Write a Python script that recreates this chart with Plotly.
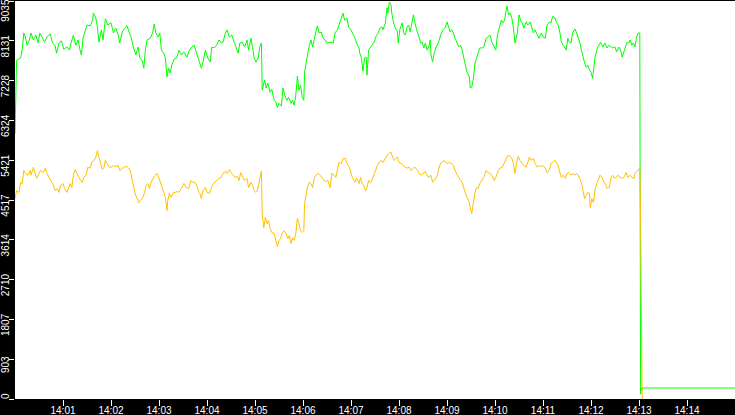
import pandas as pd
import plotly.graph_objects as go

# seconds after 14:00:00 and readings
green_t = [0, 1, 2, 7, 9, 11, 13, 15, 18, 20,
           23, 26, 29, 31, 34, 37, 40, 44, 47, 50,
           52, 55, 58, 61, 65, 68, 70, 73, 76, 79,
           81, 83, 85, 88, 90, 94, 97, 98, 101, 103,
           105, 108, 110, 113, 116, 120, 123, 126, 129, 131,
           134, 137, 140, 143, 145, 148, 151, 154, 156, 159,
           161, 163, 165, 169, 172, 174, 176, 179, 181, 183,
           186, 188, 190, 192, 194, 196, 199, 202, 205, 208,
           211, 215, 218, 221, 224, 227, 230, 233, 235, 238,
           241, 244, 246, 249, 252, 255, 258, 260, 263, 265,
           268, 271, 274, 276, 279, 281, 284, 287, 290, 292,
           295, 297, 299, 301, 304, 306, 308, 309, 312, 314,
           316, 319, 321, 324, 326, 328, 330, 333, 335, 337,
           340, 342, 345, 347, 349, 351, 353, 355, 357, 359,
           361, 362, 364, 366, 368, 370, 372, 374, 376, 378,
           380, 383, 385, 388, 390, 395, 398, 400, 403, 405,
           408, 410, 412, 415, 417, 420, 423, 425, 428, 430,
           431, 433, 435, 437, 439, 440, 442, 444, 446, 449,
           451, 454, 456, 459, 460, 463, 465, 466, 468, 470,
           471, 473, 475, 478, 479, 481, 484, 486, 488, 490,
           492, 494, 496, 498, 500, 502, 505, 507, 509, 511,
           513, 515, 517, 519, 520, 522, 524, 526, 529, 531,
           533, 535, 538, 540, 542, 544, 546, 548, 550, 553,
           555, 557, 559, 561, 563, 565, 568, 569, 571, 573,
           575, 577, 579, 581, 584, 586, 589, 591, 594, 596,
           599, 601, 603, 605, 608, 610, 612, 614, 615, 617,
           619, 621, 623, 625, 628, 630, 632, 634, 636, 639,
           641, 644, 646, 648, 650, 653, 655, 658, 660, 663,
           665, 668, 670, 672, 675, 677, 679, 681, 683, 685,
           687, 689, 691, 693, 695, 697, 700, 702, 704, 706,
           708, 710, 712, 714, 716, 718, 720, 722, 724, 725,
           728, 730, 732, 735, 737, 740, 742, 745, 747, 750,
           752, 755, 757, 759, 761, 763, 765, 767, 769, 771,
           773, 775, 777, 779, 781, 782, 783, 900]
green_v = [6030, 6830, 7690, 7740, 7920, 8310, 8220, 8030, 8150, 8310,
           8150, 8260, 8080, 8310, 8190, 8100, 8220, 8290, 8080, 8030,
           7850, 8080, 8130, 7940, 7990, 7920, 8080, 8260, 8030, 8150,
           7940, 7810, 8190, 8380, 8490, 8470, 8600, 8760, 8650, 8440,
           8100, 8380, 8150, 8630, 8490, 8540, 8310, 8420, 8260, 8080,
           8330, 8420, 8470, 8310, 8220, 7990, 7810, 7990, 7740, 7690,
           7510, 7920, 8150, 8190, 8310, 8510, 8310, 8220, 8310, 7920,
           7850, 7740, 7310, 7510, 7400, 7580, 7720, 7740, 7920, 7810,
           7880, 7760, 7920, 7990, 8030, 7850, 7690, 7510, 7650, 7920,
           7740, 7650, 7990, 7970, 8030, 8150, 8080, 8100, 8310, 8380,
           8220, 8260, 8100, 7990, 7850, 8080, 8100, 7990, 8150, 7920,
           8190, 7970, 7740, 7650, 7740, 7990, 8080, 7010, 7240, 7060,
           7170, 6960, 7030, 6780, 6740, 6620, 6710, 6650, 7060, 6900,
           6780, 6850, 6710, 6780, 6670, 6900, 7330, 7010, 7120, 6850,
           6780, 7420, 7690, 7850, 8030, 8150, 7990, 8190, 8330, 8470,
           8310, 8330, 8190, 8150, 8080, 8100, 8080, 8310, 8380, 8490,
           8650, 8760, 8600, 8650, 8440, 8380, 8260, 8190, 8030, 7970,
           7850, 7740, 7440, 7740, 7760, 7350, 7920, 7990, 8030, 8100,
           8220, 8310, 8420, 8440, 8380, 8540, 8880, 8760, 9010, 8950,
           8760, 8560, 8440, 8330, 8080, 8380, 8540, 8310, 8260, 8440,
           8490, 8330, 8540, 8720, 8540, 8380, 8220, 8080, 8100, 7970,
           8080, 7920, 7990, 8150, 7810, 7650, 7850, 7970, 8080, 8220,
           8310, 8380, 8440, 8560, 8440, 8330, 8380, 8310, 8190, 8080,
           7990, 8030, 7920, 7740, 7580, 7420, 7310, 7060, 7080, 7280,
           7630, 7740, 7850, 7970, 7970, 7990, 8190, 8220, 8260, 8100,
           7990, 7920, 8260, 8420, 8600, 8540, 8600, 8830, 8920, 8720,
           8760, 8650, 8420, 8080, 8310, 8720, 8600, 8540, 8420, 8560,
           8490, 8560, 8440, 8310, 8380, 8260, 8190, 8310, 8220, 8190,
           8490, 8560, 8540, 8690, 8650, 8540, 8490, 8330, 8100, 8030,
           7990, 7920, 8190, 8100, 8080, 8310, 8400, 8310, 8190, 8100,
           7920, 7740, 7630, 7530, 7580, 7470, 7420, 7280, 7650, 7760,
           7970, 8030, 8100, 7990, 8080, 7970, 8030, 7990, 7970, 7990,
           7880, 7990, 7920, 7760, 7880, 7970, 8100, 8080, 8150, 8030,
           8080, 7990, 8220, 8310, 8310, 110, 250, 250]

orange_t = [0, 2, 5, 7, 9, 11, 13, 16, 19, 20,
            23, 25, 27, 30, 32, 35, 38, 40, 43, 45,
            48, 50, 53, 55, 57, 60, 62, 65, 67, 69,
            71, 73, 75, 77, 80, 82, 84, 86, 89, 91,
            94, 96, 99, 101, 103, 105, 107, 109, 111, 113,
            115, 118, 120, 123, 126, 129, 131, 134, 136, 139,
            141, 144, 146, 148, 150, 152, 155, 157, 160, 162,
            164, 166, 168, 170, 173, 175, 178, 180, 182, 184,
            186, 188, 190, 191, 193, 195, 198, 200, 203, 205,
            208, 211, 214, 217, 220, 222, 225, 227, 230, 231,
            233, 235, 238, 240, 243, 245, 248, 250, 253, 255,
            258, 260, 263, 265, 268, 270, 273, 275, 278, 280,
            282, 285, 287, 290, 292, 295, 297, 299, 301, 303,
            305, 307, 308, 309, 311, 313, 315, 317, 319, 321,
            324, 326, 328, 330, 332, 334, 336, 339, 341, 343,
            345, 347, 349, 351, 353, 355, 357, 359, 361, 362,
            364, 366, 368, 370, 372, 374, 376, 379, 381, 384,
            386, 389, 391, 394, 396, 399, 401, 403, 405, 408,
            410, 413, 415, 418, 420, 422, 425, 427, 430, 432,
            434, 436, 438, 440, 442, 445, 447, 449, 451, 453,
            455, 458, 460, 463, 465, 468, 470, 472, 474, 476,
            478, 480, 483, 485, 488, 490, 493, 495, 498, 500,
            503, 505, 508, 510, 513, 515, 517, 520, 522, 524,
            526, 528, 530, 532, 534, 536, 538, 540, 543, 545,
            548, 550, 553, 555, 557, 559, 561, 563, 565, 567,
            569, 571, 573, 575, 577, 579, 581, 584, 586, 589,
            591, 594, 596, 599, 601, 604, 606, 609, 611, 614,
            616, 619, 621, 623, 625, 627, 629, 631, 634, 636,
            639, 641, 643, 645, 648, 650, 653, 655, 658, 660,
            663, 665, 668, 670, 672, 675, 677, 679, 681, 683,
            685, 688, 690, 692, 695, 697, 700, 702, 704, 706,
            708, 710, 712, 714, 716, 718, 719, 721, 723, 725,
            727, 729, 731, 734, 736, 738, 740, 743, 745, 747,
            749, 751, 754, 756, 759, 761, 764, 766, 769, 771,
            774, 775, 778, 780, 781, 782, 783, 784]
orange_v = [4550, 4730, 4690, 4920, 4890, 5190, 5120, 5080, 5190, 5080,
            5260, 5120, 5010, 5120, 5190, 5140, 5240, 5120, 5010, 4960,
            4850, 4730, 4780, 4690, 4850, 4890, 4780, 4690, 4800, 4890,
            4800, 5080, 5210, 5120, 5030, 4960, 4920, 5030, 5080, 5260,
            5240, 5370, 5420, 5490, 5640, 5490, 5350, 5210, 5240, 5420,
            5350, 5260, 5260, 5300, 5280, 5300, 5190, 5240, 5260, 5280,
            5260, 5190, 5010, 4780, 4670, 4580, 4460, 4510, 4580, 4690,
            4850, 4890, 4780, 4920, 5010, 5080, 5120, 5010, 4920, 4800,
            4730, 4580, 4280, 4510, 4670, 4580, 4690, 4690, 4710, 4690,
            4780, 4890, 4800, 4780, 4960, 4920, 4920, 4850, 4690, 4670,
            4550, 4730, 4800, 4690, 4670, 4780, 4890, 4920, 4960, 5010,
            5030, 5120, 5170, 5120, 5210, 5140, 5080, 5030, 5050, 4960,
            5140, 5030, 4960, 5010, 4800, 4920, 4850, 4730, 4690, 4730,
            4890, 5080, 5170, 4210, 3890, 4120, 3980, 4050, 3870, 3780,
            3760, 3600, 3460, 3600, 3640, 3760, 3820, 3760, 3640, 3710,
            3530, 3660, 3600, 3760, 4100, 3980, 3820, 3780, 3820, 4440,
            4670, 4850, 4920, 4890, 4800, 5010, 5080, 5120, 5080, 5030,
            4960, 4940, 4960, 4800, 5120, 5080, 5030, 5240, 5370, 5350,
            5460, 5460, 5350, 5260, 5140, 5010, 4920, 5010, 4890, 5030,
            4890, 4850, 4730, 4800, 4960, 4920, 5010, 5120, 5240, 5300,
            5370, 5420, 5370, 5460, 5530, 5580, 5600, 5490, 5420, 5460,
            5490, 5370, 5350, 5300, 5260, 5240, 5260, 5190, 5240, 5260,
            5190, 5120, 5080, 5120, 5170, 5080, 5030, 5080, 4920, 4960,
            5010, 5080, 5240, 5350, 5370, 5420, 5370, 5350, 5370, 5350,
            5300, 5190, 5080, 5010, 4960, 4920, 4780, 4670, 4580, 4510,
            4350, 4210, 4460, 4690, 4800, 4780, 4890, 4960, 5030, 5190,
            5140, 5120, 5080, 4960, 5030, 5190, 5240, 5260, 5350, 5460,
            5530, 5510, 5460, 5350, 5120, 5350, 5510, 5420, 5350, 5300,
            5260, 5370, 5490, 5420, 5460, 5350, 5260, 5300, 5280, 5300,
            5240, 5140, 5190, 5350, 5370, 5420, 5370, 5300, 5140, 5030,
            5080, 5010, 5120, 5140, 5080, 5120, 5080, 5120, 5080, 5010,
            4920, 4730, 4550, 4620, 4690, 4670, 4350, 4550, 4460, 4730,
            4890, 4960, 5080, 5030, 4920, 4890, 4780, 4800, 5030, 5080,
            5010, 5030, 5080, 5030, 5010, 5030, 5140, 5030, 5080, 5030,
            5010, 5120, 5190, 5240, 5240, 4120, 2620, 0]

y_ticks = [0, 903.5, 1807, 2710.5, 3614, 4517.5, 5421, 6324.5, 7228, 8131.5, 9035]
y_labels = ["0", "903", "1807", "2710", "3614", "4517", "5421", "6324", "7228", "8131", "9035"]

start = pd.Timestamp("2024-01-01 14:00:00")
green_x = start + pd.to_timedelta(green_t, unit="s")
orange_x = start + pd.to_timedelta(orange_t, unit="s")
minute_ticks = pd.date_range(start + pd.Timedelta(minutes=1), periods=14, freq="min")

# the end labels sit pulled inside the frame: pad them with no-break spaces
nb = "\u00a0"
y_text = list(y_labels)
y_text[0] = nb * 6 + y_text[0]
y_text[-1] = y_text[-1] + nb * 3

fig = go.Figure()
fig.add_trace(go.Scatter(x=green_x, y=green_v, mode="lines",
                         line=dict(color="#00ff00", width=1), hoverinfo="skip"))
fig.add_trace(go.Scatter(x=orange_x, y=orange_v, mode="lines",
                         line=dict(color="#ffc000", width=1), hoverinfo="skip"))

fig.update_layout(
    width=735, height=415,
    margin=dict(l=15, r=0, t=1, b=16, pad=0),
    paper_bgcolor="black", plot_bgcolor="white",
    showlegend=False,
    font=dict(family="Liberation Sans, Arial", size=10, color="white"),
)
fig.update_xaxes(
    range=[start, start + pd.Timedelta(minutes=15)],
    tickvals=minute_ticks, tickformat="%H:%M",
    ticks="outside", ticklen=6, tickcolor="white", tickwidth=1,
    ticklabelstandoff=-4,
    showgrid=False, zeroline=False, showline=False,
    automargin=False, ticklabeloverflow="allow",
)
fig.update_yaxes(
    range=[0, 9035],
    tickvals=y_ticks, ticktext=y_text, tickangle=-90,
    ticks="outside", ticklen=5, tickcolor="white", tickwidth=1,
    ticklabelshift=7, ticklabelstandoff=-4,
    showgrid=False, zeroline=False, showline=False,
    automargin=False, ticklabeloverflow="allow",
)

# the page body has a default 8px margin; drop it so the chart fills the window
fig.write_html("out.html", config={"displayModeBar": False},
               post_script="document.body.style.margin='0';document.body.style.overflow='hidden';")
